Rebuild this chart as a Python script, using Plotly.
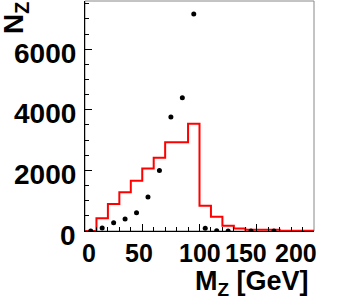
import plotly.graph_objects as go

# ---- data ----
bin_edges = [0, 10, 20, 30, 40, 50, 60, 70, 80, 90, 100, 110, 120, 130, 140, 150, 160, 170, 180, 190, 200]
hist_counts = [0, 420, 890, 1280, 1660, 2060, 2420, 2930, 2930, 3540, 835, 470, 175, 80, 40, 40, 40, 15, 10, 5]

point_x = [5, 15, 25, 35, 45, 55, 65, 75, 85, 95, 105, 115, 125, 145, 165]
point_y = [0, 100, 275, 395, 605, 1120, 2000, 3760, 4400, 7160, 90, 10, 0, 0, 0]

x_tick_vals = [0, 50, 100, 150, 200]
x_tick_text = ["0", "50", "100", "150", "200"]
y_tick_vals = [0, 2000, 4000, 6000]
y_tick_text = ["0", "2000", "4000", "6000"]

x_title = "M<sub>Z</sub> [GeV]"
y_title = "N<sub>Z</sub>"

# ---- layout constants (pixels) ----
W, H = 339, 300
L, R, T, B = 85, 25, 1, 69
PW, PH = W - L - R, H - T - B

def px_x(p):
    return (p - L) / PW

def px_y(p):
    return (H - B - p) / PH

x_label_shift = [4, -3, 0, -11, -18]

FONT = "Liberation Sans, Arial, sans-serif"

# histogram as step line
hx = [bin_edges[0]]
hy = [hist_counts[0]]
for i, c in enumerate(hist_counts):
    hx += [bin_edges[i], bin_edges[i + 1]]
    hy += [c, c]

fig = go.Figure()
fig.add_trace(go.Scatter(x=hx, y=hy, mode="lines",
                         line=dict(color="#ff0000", width=2), hoverinfo="skip"))
fig.add_trace(go.Scatter(x=point_x, y=point_y, mode="markers",
                         marker=dict(color="black", size=5), hoverinfo="skip"))

fig.update_layout(
    width=W, height=H,
    margin=dict(l=L, r=R, t=T, b=B, pad=0, autoexpand=False),
    paper_bgcolor="white", plot_bgcolor="white",
    showlegend=False,
    font=dict(family=FONT, color="black"),
)

fig.update_xaxes(
    range=[0, 200], showgrid=False, zeroline=False, automargin=False,
    showline=True, linecolor="black", linewidth=1,
    ticks="inside", ticklen=7, tickcolor="black",
    tickvals=x_tick_vals, showticklabels=False,
    minor=dict(dtick=10, ticks="inside", ticklen=4, tickcolor="black", showgrid=False),
)
fig.update_yaxes(
    range=[0, 7590], showgrid=False, zeroline=False, automargin=False,
    showline=True, linecolor="black", linewidth=1,
    ticks="inside", ticklen=7, tickcolor="black",
    tickvals=y_tick_vals, showticklabels=False,
    minor=dict(dtick=500, ticks="inside", ticklen=4, tickcolor="black", showgrid=False),
)

# frame (top/right gray)
fig.add_shape(type="rect", xref="paper", yref="paper", x0=0, x1=1, y0=0, y1=1,
              line=dict(color="#888888", width=1), layer="below")

ann = []
for v, t, s in zip(x_tick_vals, x_tick_text, x_label_shift):
    ann.append(dict(x=v, xref="x", y=px_y(253), yref="paper", text=t, showarrow=False,
                    xanchor="center", yanchor="middle", xshift=s,
                    font=dict(family=FONT, size=25, weight="bold", color="black")))
for v, t in zip(y_tick_vals, y_tick_text):
    ann.append(dict(x=px_x(78), xref="paper", y=v, yref="y", text=t, showarrow=False,
                    xanchor="right", yanchor="middle", yshift=-4,
                    font=dict(family=FONT, size=28, weight="bold", color="black")))
ann.append(dict(x=px_x(311), xref="paper", y=px_y(283), yref="paper", text=x_title,
                showarrow=False, xanchor="right", yanchor="middle",
                font=dict(family=FONT, size=27, weight="bold", color="black")))
ann.append(dict(x=px_x(15), xref="paper", y=px_y(0), yref="paper", text=y_title,
                showarrow=False, xanchor="center", yanchor="top", textangle=-90,
                font=dict(family=FONT, size=28, weight="bold", color="black")))
fig.update_layout(annotations=ann)

fig.write_html("out.html", config={"displayModeBar": False},
               post_script="document.body.style.margin='0px';")
